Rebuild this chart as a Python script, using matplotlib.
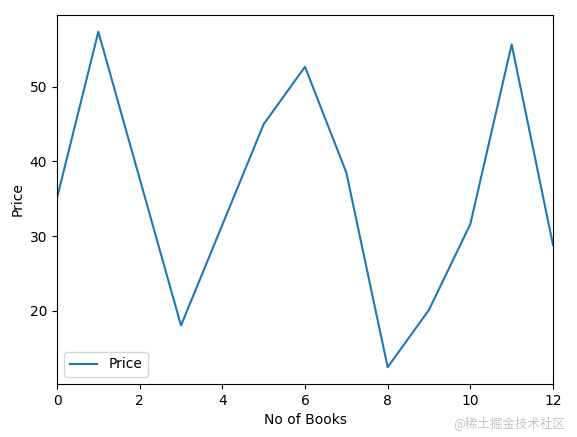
import matplotlib
matplotlib.use("Agg")
import matplotlib.pyplot as plt

books = [0, 1, 2, 3, 4, 5, 6, 7, 8, 9, 10, 11, 12]
price = [35.1, 57.4, 37.7, 18.0, 31.5, 45.0, 52.7, 38.5, 12.4, 20.1, 31.6, 55.7, 28.8]
watermark = "@稀土掘金技术社区"

fig = plt.figure(figsize=(5.77, 4.37), dpi=100)
ax = fig.add_axes([0.0988, 0.1213, 0.8596, 0.8444])
ax.plot(books, price, color="#1f77b4", label="Price")
ax.set_xlim(0, 12)
ax.set_xlabel("No of Books")
ax.set_ylabel("Price")
ax.legend(loc="lower left")
fig.text(0.98, 0.015, watermark, ha="right", va="bottom", fontsize=9,
         color="#c4c4c4", family=["Noto Sans CJK SC", "DejaVu Sans"])
fig.savefig("out.png", dpi=100)
